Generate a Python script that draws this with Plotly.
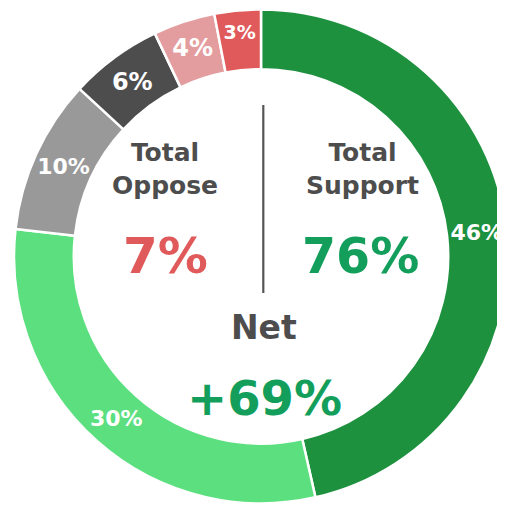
import plotly.graph_objects as go

W, H = 520, 520
OFF = 8  # page body margin

categories = ["Strongly support", "Somewhat support", "Neutral", "Don't know", "Somewhat oppose", "Strongly oppose"]
values = [46, 30, 10, 6, 4, 3]
colors = ["#1E913F", "#5CE07F", "#999999", "#4D4D4D", "#E39D9E", "#E05A5B"]
label_sizes = [22, 22, 22, 24, 24, 19]

total_oppose = 7
total_support = 76
net = total_support - total_oppose

FONT = "DejaVu Sans"
GRAY = "#4D4D4D"
RED = "#E05A5B"
GREEN = "#139F5B"

# donut geometry in page pixels
CX, CY, R = 261, 256.4, 247
fx0 = (CX - R - OFF) / W
fx1 = (CX + R - OFF) / W
fy1 = 1 - (CY - R - OFF) / H
fy0 = 1 - (CY + R - OFF) / H

fig = go.Figure(go.Pie(
    labels=categories,
    values=values,
    marker=dict(colors=colors, line=dict(color="white", width=2.5)),
    hole=0.758,
    sort=False,
    direction="clockwise",
    rotation=0,
    texttemplate="%{value}%",
    textposition="inside",
    insidetextorientation="horizontal",
    textfont=dict(family=FONT, size=label_sizes, color="white", weight="bold"),
    domain=dict(x=[fx0, fx1], y=[fy0, fy1]),
    showlegend=False,
    hoverinfo="label+value",
))


def px(x, y):
    return (x - OFF) / W, 1 - (y - OFF) / H


annotations = []


def add(text, x, y, size, color):
    ax, ay = px(x, y)
    annotations.append(dict(
        text=text, x=ax, y=ay, xref="paper", yref="paper",
        xanchor="center", yanchor="middle", showarrow=False,
        font=dict(family=FONT, size=size, color=color, weight="bold"),
    ))


add("Total<br>Oppose", 165, 169, 25, GRAY)
add("Total<br>Support", 362, 169, 25, GRAY)
add(f"{total_oppose}%", 165, 256, 50, RED)
add(f"{total_support}%", 360, 256, 49, GREEN)
add("Net", 264, 327, 33, GRAY)
add(f"+{net}%", 264, 398, 48, GREEN)

x0, y0 = px(263.3, 105)
x1, y1 = px(263.3, 293)
fig.update_layout(
    width=W, height=H,
    margin=dict(l=0, r=0, t=0, b=0),
    paper_bgcolor="white",
    plot_bgcolor="white",
    annotations=annotations,
    shapes=[dict(type="line", xref="paper", yref="paper", x0=x0, x1=x1, y0=y0, y1=y1,
                 line=dict(color="#555555", width=2.2))],
)

fig.write_html("out.html")
